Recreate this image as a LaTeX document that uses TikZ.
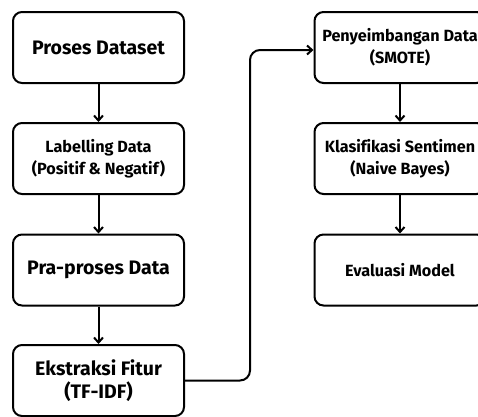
\documentclass[tikz,border=0pt]{standalone}
\usepackage{fontspec}
\setmainfont[Ligatures={NoCommon}]{Fira Sans}
\usetikzlibrary{arrows.meta}
\tikzset{
  flowbox/.style={draw=black, line width=2pt, rounded corners=9pt, fill=white,
    minimum width=171pt, minimum height=71pt, align=center, inner sep=2pt},
  bigtext/.style={font=\bfseries\fontsize{19.5}{23}\selectfont},
  smalltext/.style={font=\bfseries\fontsize{16.2}{22}\selectfont},
  flowarrow/.style={draw=black, line width=2pt, -{Straight Barb[length=5pt,width=9pt,line width=2pt]}},
}
\begin{document}
\begin{tikzpicture}[x=1pt,y=-1pt]
  \useasboundingbox (0,0) rectangle (478,416);
  \clip (0,0) rectangle (478,416);
  % left column
  \node[flowbox, bigtext]   (ds)  at (98.5,47.5)  {Proses Dataset};
  \node[flowbox, smalltext] (lab) at (98.5,158.5) {Labelling Data\\(Positif \& Negatif)};
  \node[flowbox, bigtext]   (pre) at (98.5,270)   {Pra-proses Data};
  \node[flowbox, bigtext]   (fe)  at (98.5,380.5) {Ekstraksi Fitur\\(TF-IDF)};
  % right column
  \node[flowbox, smalltext] (sm)  at (400,47.5)  {Penyeimbangan Data\\(SMOTE)};
  \node[flowbox, smalltext] (nb)  at (400,158.5) {Klasifikasi Sentimen\\(Naive Bayes)};
  \node[flowbox, smalltext] (ev)  at (400,270)   {Evaluasi Model};
  % connectors
  \draw[flowarrow] (ds) -- (lab);
  \draw[flowarrow] (lab) -- (pre);
  \draw[flowarrow] (pre) -- (fe);
  \draw[flowarrow, rounded corners=10pt] (fe.east) -- (250,380.5) -- (250,50) -- (sm.west |- 0,50);
  \draw[flowarrow] (sm) -- (nb);
  \draw[flowarrow] (nb) -- (ev);
\end{tikzpicture}
\end{document}
